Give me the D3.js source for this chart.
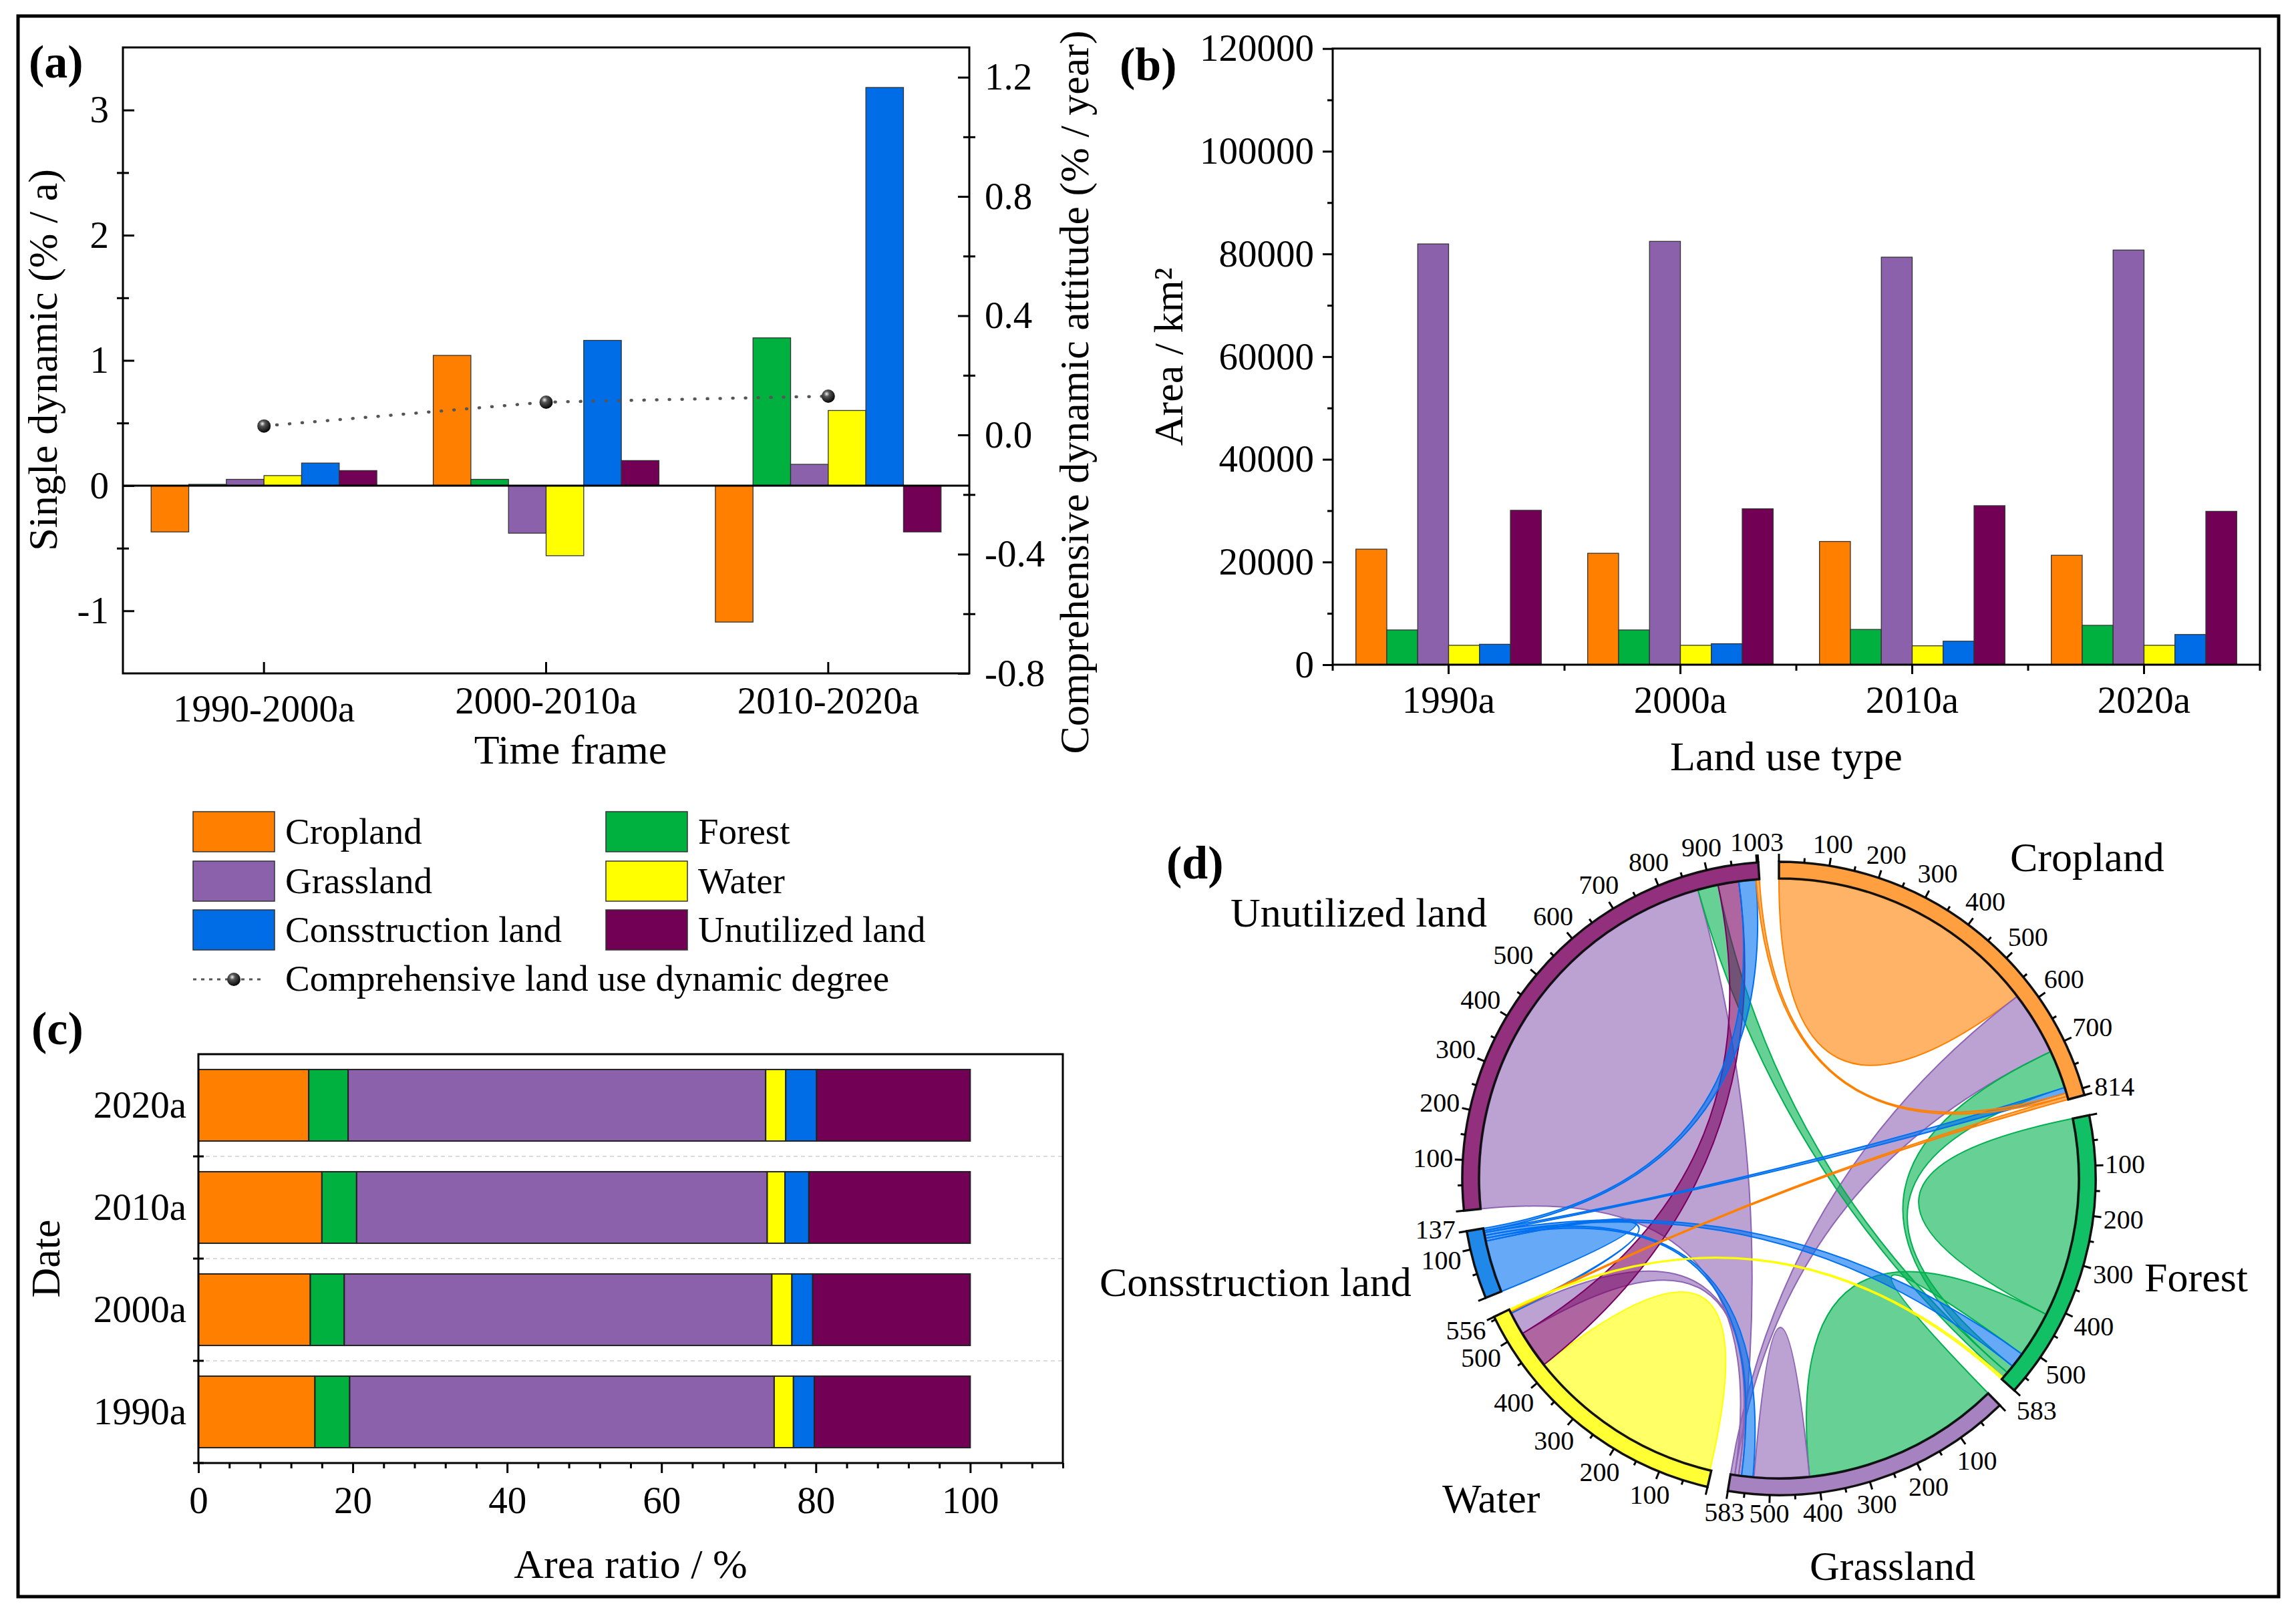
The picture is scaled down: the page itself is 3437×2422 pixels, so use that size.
<!DOCTYPE html>
<html><head><meta charset="utf-8">
<script src="https://cdn.jsdelivr.net/npm/d3@7"></script>
<style>body{margin:0;background:#fff}</style>
</head><body>
<svg id="c" width="3437" height="2422"></svg>
<script>
// ---------------- DATA ----------------
const categories = ["Cropland","Forest","Grassland","Water","Consstruction land","Unutilized land"];
const colors = ["#ff8000","#00b140","#8b61ac","#ffff00","#006ce6","#720055"];

// (a) single dynamic degree (% / a), per period, in category order
const periods = ["1990-2000a","2000-2010a","2010-2020a"];
const dyn1990_2000 = [-0.37, 0.01, 0.05, 0.08, 0.18, 0.12];
const dyn2000_2010 = [1.04, 0.05, -0.38, -0.56, 1.16, 0.20];
const dyn2010_2020 = [-1.09, 1.18, 0.17, 0.60, 3.18, -0.37];
const comprehensive = [0.03, 0.11, 0.13];
const leftTicksA = [-1, 0, 1, 2, 3];
const leftMinorA = [-0.5, 0.5, 1.5, 2.5];
const rightTicksA = [-0.8, -0.4, 0.0, 0.4, 0.8, 1.2];
const rightMinorA = [-0.6, -0.2, 0.2, 0.6, 1.0];

// (b) area (km2)
const years = ["1990a","2000a","2010a","2020a"];
const area1990 = [22500, 6770, 81950, 3780, 3980, 30070];
const area2000 = [21700, 6770, 82450, 3780, 4080, 30370];
const area2010 = [24000, 6870, 79370, 3680, 4580, 30970];
const area2020 = [21310, 7670, 80760, 3780, 5880, 29870];
const areaTicks = [0, 20000, 40000, 60000, 80000, 100000, 120000];
const areaMinor = [10000, 30000, 50000, 70000, 90000, 110000];

// (c) area ratio (%)
const ratioYears = ["2020a","2010a","2000a","1990a"];
const ratio2020 = [14.3, 5.1, 54.1, 2.6, 4.0, 19.9];
const ratio2010 = [16.0, 4.5, 53.2, 2.3, 3.1, 20.9];
const ratio2000 = [14.5, 4.4, 55.4, 2.6, 2.7, 20.4];
const ratio1990 = [15.1, 4.5, 55.0, 2.5, 2.7, 20.2];
const ratioTicks = [0, 20, 40, 60, 80, 100];

// (d) chord diagram
const chordTotals = [814, 583, 583, 556, 137, 1003];
const trackColors = ["#ff9f3f","#11c064","#a782c0","#ffff33","#1f88e8","#93307d"];
const linkColors  = ["#ff8000","#00b04f","#8e64b4","#ffff00","#0070f0","#7a0060"];
// [colorSector, sourceSector, s0, s1, targetSector, t0, t1]
const chordLinks = [
  [0, 0,   0, 286, 0, 286, 573],
  [1, 1,   0, 209, 1, 209, 419],
  [1, 1, 419, 516, 2,   0, 418],
  [2, 2, 418, 476, 2, 476, 534],
  [3, 3,   3, 211, 3, 211, 420],
  [4, 4,   0,  55, 4,  55, 110],
  [2, 2, 566, 574, 5,   0, 873],
  [2, 2, 574, 583, 0, 573, 708],
  [2, 2, 560, 566, 3, 499, 547],
  [1, 1, 548, 565, 0, 708, 788],
  [1, 1, 565, 578, 5, 873, 916],
  [5, 5, 916, 960, 3, 420, 499],
  [4, 4, 128, 132, 0, 788, 800],
  [4, 4, 122, 128, 1, 516, 548],
  [4, 4, 116, 122, 2, 536, 560],
  [4, 4, 110, 116, 3, 547, 550],
  [4, 4, 132, 137, 5, 960, 996],
  [0, 0, 800, 807, 5, 996, 1003],
  [0, 0, 807, 814, 3, 550, 553],
  [3, 3, 553, 556, 1, 578, 583]
];

// ---------------- HELPERS ----------------
const FONT = '"Liberation Serif","Times New Roman",serif';
const W = 3437, H = 2422;
const svg = d3.select("#c");
svg.append("rect").attr("width", W).attr("height", H).attr("fill", "#fff");
const defs = svg.append("defs");
const grad = defs.append("radialGradient").attr("id", "sph").attr("cx", "0.38").attr("cy", "0.33").attr("r", "0.7");
grad.append("stop").attr("offset", "0").attr("stop-color", "#f0f0f0");
grad.append("stop").attr("offset", "0.3").attr("stop-color", "#555");
grad.append("stop").attr("offset", "1").attr("stop-color", "#000");

function text(g, x, y, t, fs, anchor = "start", weight = "normal") {
  return g.append("text").attr("x", x).attr("y", y).attr("font-family", FONT)
    .attr("font-size", fs).attr("font-weight", weight).attr("text-anchor", anchor)
    .attr("fill", "#000").text(t);
}
function vtext(g, x, y, t, fs) {
  return g.append("text").attr("transform", `translate(${x},${y}) rotate(-90)`)
    .attr("font-family", FONT).attr("font-size", fs).attr("text-anchor", "middle")
    .attr("fill", "#000").text(t);
}
function styleAxis(g, fs) {
  g.attr("font-family", FONT).attr("font-size", fs);
  g.select(".domain").remove();
  g.selectAll(".tick line").attr("stroke", "#000").attr("stroke-width", 3);
  g.selectAll(".tick text").attr("fill", "#000");
}
const TICKFS = 57, TITLEFS = 62;

// border
svg.append("rect").attr("x", 27).attr("y", 24).attr("width", 3384).attr("height", 2366)
  .attr("fill", "none").attr("stroke", "#000").attr("stroke-width", 5);

// ---------------- PANEL A ----------------
{
  const A = {x0: 184, x1: 1451, y0: 71, y1: 1008};
  const g = svg.append("g");
  const xa = d3.scaleBand().domain(periods).range([A.x0, A.x1]);
  const xin = d3.scaleBand().domain(categories).range([0.1 * xa.bandwidth(), 0.9 * xa.bandwidth()]);
  const yL = d3.scaleLinear().domain([-1.5, 3.5]).range([A.y1, A.y0]);
  const yR = d3.scaleLinear().domain([-0.8, 1.3]).range([A.y1, A.y0]);
  const dynByPeriod = [dyn1990_2000, dyn2000_2010, dyn2010_2020];
  dynByPeriod.forEach((vals, i) => vals.forEach((v, j) => {
    g.append("rect").attr("x", xa(periods[i]) + xin(categories[j])).attr("width", xin.bandwidth())
      .attr("y", yL(Math.max(0, v))).attr("height", Math.abs(yL(v) - yL(0)))
      .attr("fill", colors[j]).attr("stroke", "#333").attr("stroke-width", 1.3);
  }));
  g.append("line").attr("x1", A.x0).attr("x2", A.x1).attr("y1", yL(0)).attr("y2", yL(0))
    .attr("stroke", "#000").attr("stroke-width", 3);
  g.append("rect").attr("x", A.x0).attr("y", A.y0).attr("width", A.x1 - A.x0).attr("height", A.y1 - A.y0)
    .attr("fill", "none").attr("stroke", "#000").attr("stroke-width", 3);

  const ax1 = g.append("g").attr("transform", `translate(${A.x0},0)`)
    .call(d3.axisLeft(yL).tickValues(leftTicksA).tickSize(-17).tickPadding(21).tickFormat(d => String(d)));
  styleAxis(ax1, TICKFS);
  [9, -9].forEach(s => {
    const m = g.append("g").attr("transform", `translate(${A.x0},0)`)
      .call(d3.axisLeft(yL).tickValues(leftMinorA).tickSize(s).tickFormat(""));
    styleAxis(m, TICKFS);
  });
  const ax2 = g.append("g").attr("transform", `translate(${A.x1},0)`)
    .call(d3.axisRight(yR).tickValues(rightTicksA).tickSize(-17).tickPadding(23).tickFormat(d => d.toFixed(1)));
  styleAxis(ax2, TICKFS);
  [9, -9].forEach(s => {
    const m = g.append("g").attr("transform", `translate(${A.x1},0)`)
      .call(d3.axisRight(yR).tickValues(rightMinorA).tickSize(s).tickFormat(""));
    styleAxis(m, TICKFS);
  });
  const ax3 = g.append("g").attr("transform", `translate(0,${A.y1})`)
    .call(d3.axisBottom(xa).tickSize(-17).tickPadding(19.5));
  styleAxis(ax3, TICKFS);
  ax3.selectAll(".tick text").attr("dy", (d, i) => i === 0 ? "0.92em" : "0.71em");

  // comprehensive line
  const line = d3.line().x((d, i) => xa(periods[i]) + xa.bandwidth() / 2).y(d => yR(d));
  g.append("path").attr("d", line(comprehensive)).attr("fill", "none").attr("stroke", "#555")
    .attr("stroke-width", 4.5).attr("stroke-dasharray", "1,18").attr("stroke-linecap", "round");
  g.selectAll(".cmk").data(comprehensive).enter().append("circle")
    .attr("cx", (d, i) => xa(periods[i]) + xa.bandwidth() / 2).attr("cy", d => yR(d))
    .attr("r", 10).attr("fill", "url(#sph)");

  text(g, 43, 116, "(a)", 70, "start", "bold");
  text(g, 854, 1143, "Time frame", TITLEFS, "middle");
  vtext(g, 85, 539, "Single dynamic (% / a)", TITLEFS);
  vtext(g, 1629, 587, "Comprehensive dynamic attitude (% / year)", TITLEFS);
}

// ---------------- PANEL B ----------------
{
  const B = {x0: 1995, x1: 3383, y0: 72.7, y1: 995};
  const g = svg.append("g");
  const xb = d3.scaleBand().domain(years).range([B.x0, B.x1]);
  const xin = d3.scaleBand().domain(categories).range([0.1 * xb.bandwidth(), 0.9 * xb.bandwidth()]);
  const yb = d3.scaleLinear().domain([0, 120000]).range([B.y1, B.y0]);
  const areas = [area1990, area2000, area2010, area2020];
  areas.forEach((vals, i) => vals.forEach((v, j) => {
    g.append("rect").attr("x", xb(years[i]) + xin(categories[j])).attr("width", xin.bandwidth())
      .attr("y", yb(v)).attr("height", yb(0) - yb(v))
      .attr("fill", colors[j]).attr("stroke", "#333").attr("stroke-width", 1.3);
  }));
  g.append("rect").attr("x", B.x0).attr("y", B.y0).attr("width", B.x1 - B.x0).attr("height", B.y1 - B.y0)
    .attr("fill", "none").attr("stroke", "#000").attr("stroke-width", 3);
  const ay = g.append("g").attr("transform", `translate(${B.x0},0)`)
    .call(d3.axisLeft(yb).tickValues(areaTicks).tickSize(15).tickPadding(13).tickFormat(d => String(d)));
  styleAxis(ay, TICKFS);
  const aym = g.append("g").attr("transform", `translate(${B.x0},0)`)
    .call(d3.axisLeft(yb).tickValues(areaMinor).tickSize(8).tickFormat(""));
  styleAxis(aym, TICKFS);
  const axb = g.append("g").attr("transform", `translate(0,${B.y1})`)
    .call(d3.axisBottom(xb).tickSize(14).tickPadding(17.5));
  styleAxis(axb, TICKFS);
  years.concat(["end"]).forEach((yy, i) => {
    const x = i < years.length ? xb(yy) : B.x1;
    g.append("line").attr("x1", x).attr("x2", x).attr("y1", B.y1).attr("y2", B.y1 + 9)
      .attr("stroke", "#000").attr("stroke-width", 3);
  });
  text(g, 1676, 120, "(b)", 70, "start", "bold");
  text(g, 2674, 1153, "Land use type", TITLEFS, "middle");
  vtext(g, 1770, 534, "Area / km²", TITLEFS);
}

// ---------------- LEGEND ----------------
{
  const g = svg.append("g");
  const cols = [289, 907], rows = [1215, 1289, 1362];
  categories.forEach((c, i) => {
    const col = i % 2, row = Math.floor(i / 2);
    g.append("rect").attr("x", cols[col]).attr("y", rows[row]).attr("width", 122).attr("height", 60)
      .attr("fill", colors[i]).attr("stroke", "#333").attr("stroke-width", 1.5);
    text(g, cols[col] + 138, rows[row] + 48, c, 55);
  });
  g.append("line").attr("x1", 289).attr("x2", 397).attr("y1", 1466).attr("y2", 1466)
    .attr("stroke", "#555").attr("stroke-width", 3).attr("stroke-dasharray", "5,7");
  g.append("circle").attr("cx", 350).attr("cy", 1466).attr("r", 10).attr("fill", "url(#sph)");
  text(g, 427, 1483, "Comprehensive land use dynamic degree", 55);
}

// ---------------- PANEL C ----------------
{
  const C = {x0: 297, x1: 1591, y0: 1578, y1: 2190};
  const g = svg.append("g");
  const xc = d3.scaleLinear().domain([0, 112]).range([C.x0, C.x1]);
  const yc = d3.scaleBand().domain(ratioYears).range([C.y0, C.y1]).paddingInner(0.3).paddingOuter(0.15);
  const ratios = [ratio2020, ratio2010, ratio2000, ratio1990];
  for (let k = 1; k < ratioYears.length; k++) {
    const y = C.y0 + k * yc.step();
    g.append("line").attr("x1", C.x0).attr("x2", C.x1).attr("y1", y).attr("y2", y)
      .attr("stroke", "#cfcfcf").attr("stroke-width", 1.5).attr("stroke-dasharray", "6,5");
  }
  ratios.forEach((vals, i) => {
    const cum = d3.cumsum(vals);
    vals.forEach((v, j) => {
      const a = cum[j] - v;
      g.append("rect").attr("x", xc(a)).attr("width", xc(cum[j]) - xc(a))
        .attr("y", yc(ratioYears[i])).attr("height", yc.bandwidth())
        .attr("fill", colors[j]).attr("stroke", "#222").attr("stroke-width", 2);
    });
  });
  g.append("rect").attr("x", C.x0).attr("y", C.y0).attr("width", C.x1 - C.x0).attr("height", C.y1 - C.y0)
    .attr("fill", "none").attr("stroke", "#000").attr("stroke-width", 3);
  const axx = g.append("g").attr("transform", `translate(0,${C.y1})`)
    .call(d3.axisBottom(xc).tickValues(ratioTicks).tickSize(15).tickPadding(19.5).tickFormat(d => String(d)));
  styleAxis(axx, TICKFS);
  const minor = d3.range(0, 113, 4).filter(v => v % 20 !== 0);
  const axm = g.append("g").attr("transform", `translate(0,${C.y1})`)
    .call(d3.axisBottom(xc).tickValues(minor).tickSize(8).tickFormat(""));
  styleAxis(axm, TICKFS);
  const axy = g.append("g").attr("transform", `translate(${C.x0},0)`)
    .call(d3.axisLeft(yc).tickSize(0).tickPadding(18));
  styleAxis(axy, TICKFS);
  for (let k = 1; k <= ratioYears.length; k++) {
    const y = C.y0 + k * yc.step();
    g.append("line").attr("x1", C.x0 - 8).attr("x2", C.x0 + 8).attr("y1", y).attr("y2", y)
      .attr("stroke", "#000").attr("stroke-width", 3);
  }
  text(g, 47, 1563, "(c)", 70, "start", "bold");
  text(g, 944, 2362, "Area ratio / %", TITLEFS, "middle");
  vtext(g, 89, 1884, "Date", TITLEFS);
}

// ---------------- PANEL D (chord) ----------------
{
  const D = {cx: 2663, cy: 1764, rIn: 449, rOut: 474, gap: 3.75};
  const g = svg.append("g").attr("transform", `translate(${D.cx},${D.cy})`);
  const total = d3.sum(chordTotals);
  const dpu = (360 - chordTotals.length * D.gap) / total;
  const starts = [];
  let acc = 0;
  chordTotals.forEach(t => { starts.push(acc); acc += t * dpu + D.gap; });
  const ang = d3.scaleLinear().domain([0, 360]).range([0, 2 * Math.PI]);
  const angleOf = (s, u) => ang(starts[s] + u * dpu);

  const rr = D.rIn - 1;
  const ribbon = d3.ribbon().radius(rr);
  function selfBlob(a0, a1) {
    const p = d3.path();
    p.moveTo(rr * Math.sin(a0), -rr * Math.cos(a0));
    p.arc(0, 0, rr, a0 - Math.PI / 2, a1 - Math.PI / 2);
    p.quadraticCurveTo(0, 0, rr * Math.sin(a0), -rr * Math.cos(a0));
    p.closePath();
    return p.toString();
  }
  chordLinks.forEach(l => {
    const [c, s, s0, s1, t, t0, t1] = l;
    let dStr;
    if (s === t && s1 === t0) {
      dStr = selfBlob(angleOf(s, s0), angleOf(t, t1));
    } else {
      dStr = ribbon({source: {startAngle: angleOf(s, s0), endAngle: angleOf(s, s1)},
                     target: {startAngle: angleOf(t, t0), endAngle: angleOf(t, t1)}});
    }
    g.append("path").attr("d", dStr).attr("fill", linkColors[c]).attr("fill-opacity", 0.6)
      .attr("stroke", linkColors[c]).attr("stroke-width", 2);
  });

  const arc = d3.arc().innerRadius(D.rIn).outerRadius(D.rOut);
  chordTotals.forEach((t, i) => {
    g.append("path").attr("d", arc({startAngle: angleOf(i, 0), endAngle: angleOf(i, t)}))
      .attr("fill", trackColors[i]).attr("stroke", "#111").attr("stroke-width", 3.5);
  });

  // ticks & labels
  chordTotals.forEach((t, i) => {
    const vals = d3.range(0, t + 1, 50);
    if (vals[vals.length - 1] !== t) vals.push(t);
    const lastHundred = Math.floor((t - 30) / 100) * 100;
    const crowded = (t - lastHundred) < 50;
    vals.forEach(v => {
      const a = angleOf(i, v);
      const major = (v % 100 === 0) || v === t;
      const len = major ? 12 : 7;
      g.append("line")
        .attr("x1", D.rOut * Math.sin(a)).attr("y1", -D.rOut * Math.cos(a))
        .attr("x2", (D.rOut + len) * Math.sin(a)).attr("y2", -(D.rOut + len) * Math.cos(a))
        .attr("stroke", "#000").attr("stroke-width", 3);
      const showLabel = v > 0 && ((v % 100 === 0 && t - v >= 30) || v === t);
      if (showLabel) {
        const s = String(v);
        const w = s.length * 20, h = 27;
        const dist = 488 + (w / 2) * Math.abs(Math.sin(a)) + (h / 2) * Math.abs(Math.cos(a));
        let shift = 0;
        if (crowded && v === t) shift = 10;
        if (crowded && v === lastHundred) shift = -6;
        const x = dist * Math.sin(a) + shift * Math.cos(a);
        const y = -dist * Math.cos(a) + shift * Math.sin(a);
        text(g, x, y + 13, s, 40, "middle");
      }
    });
  });

  // sector names (layout offsets relative to the chord centre)
  const nameOffsets = [[346, -460], [547, 169], [46, 601], [-504, 500], [-1017, 176], [-821, -377]];
  categories.forEach((c, i) => {
    text(g, nameOffsets[i][0], nameOffsets[i][1], c, TITLEFS, "start");
  });
  text(svg, 1746, 1315, "(d)", 70, "start", "bold");
}
</script>
</body></html>
